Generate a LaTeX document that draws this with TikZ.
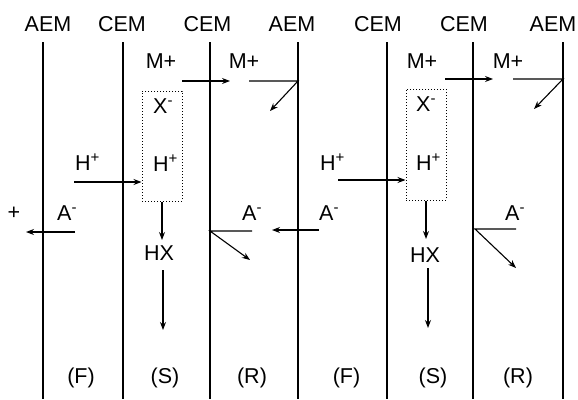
\documentclass[tikz,border=0pt]{standalone}
\usepackage{fontspec}
\setmainfont{Liberation Sans}
\usetikzlibrary{arrows.meta}
\begin{document}
\begin{tikzpicture}[x=1pt,y=-1pt,
  membrane/.style={line width=1.9pt},
  flow/.style={line width=1.1pt,-{Stealth[length=8pt,width=6pt]}},
  lbl/.style={inner sep=0pt,anchor=base,font=\fontsize{21.5}{25}\selectfont},
  lblw/.style={lbl,anchor=base west},
  pore/.style={draw,dotted,line width=1pt,inner sep=0pt}]
\useasboundingbox (0,0) rectangle (578,399);
% membranes
\foreach \n/\x in {m1/43,m2/123,m3/210,m4/298,m5/387,m6/473,m7/563}{
  \coordinate (\n t) at (\x,42);
  \coordinate (\n b) at (\x,399);
  \draw[membrane] (\n t) -- (\n b);
}
% top labels
\node[lbl] (t1) at (48,31) {AEM};
\node[lbl] (t2) at (122,31) {CEM};
\node[lbl] (t3) at (207.5,31) {CEM};
\node[lbl] (t4) at (292,31) {AEM};
\node[lbl] (t5) at (378,31) {CEM};
\node[lbl] (t6) at (464,31) {CEM};
\node[lbl] (t7) at (553,31) {AEM};
% bottom labels
\node[lbl] (b1) at (81,383) {(F)};
\node[lbl] (b2) at (165,383) {(S)};
\node[lbl] (b3) at (252,383) {(R)};
\node[lbl] (b4) at (346.5,383) {(F)};
\node[lbl] (b5) at (433,383) {(S)};
\node[lbl] (b6) at (518,383) {(R)};
% M+ labels
\node[lbl] (mp1) at (161,68) {M+};
\node[lbl] (mp2) at (244,68) {M+};
\node[lbl] (mp3) at (422,68) {M+};
\node[lbl] (mp4) at (508,68) {M+};
% pores
\node[pore,minimum width=40pt,minimum height=110pt] (box1) at (162,146) {};
\node[pore,minimum width=40pt,minimum height=111pt] (box2) at (426,144.5) {};
\node[lblw] (x1) at (153,113) {X\textsuperscript{-}};
\node[lblw] (hi1) at (153,171) {H\textsuperscript{+}};
\node[lblw] (x2) at (416,111) {X\textsuperscript{-}};
\node[lblw] (hi2) at (416,170) {H\textsuperscript{+}};
% H+ outside
\node[lblw] (h1) at (75,170) {H\textsuperscript{+}};
\node[lblw] (h2) at (320,170) {H\textsuperscript{+}};
% HX
\node[lbl] (hx1) at (159,260) {HX};
\node[lbl] (hx2) at (425,262) {HX};
% A- labels
\node[lbl] (plus) at (14,219) {+};
\node[lblw] (a1) at (57,220) {A\textsuperscript{-}};
\node[lblw] (a2) at (242,220) {A\textsuperscript{-}};
\node[lblw] (a3) at (319,220) {A\textsuperscript{-}};
\node[lblw] (a4) at (505,220) {A\textsuperscript{-}};

% M+ arrows, left unit
\coordinate (ma1) at (182,81); \coordinate (ma2) at (230,81);
\draw[flow] (ma1) -- (ma2);
\coordinate (mb1) at (249,81); \coordinate (mc1) at (298,81); \coordinate (md1) at (270,111);
\draw[flow] (mb1) -- (mc1) -- (md1);
% M+ arrows, right unit
\coordinate (ma3) at (445,79); \coordinate (ma4) at (493,79);
\draw[flow] (ma3) -- (ma4);
\coordinate (mb2) at (513,79); \coordinate (mc2) at (563,79); \coordinate (md2) at (534,109);
\draw[flow] (mb2) -- (mc2) -- (md2);
% H+ arrows
\coordinate (hs1) at (74,182);
\draw[flow] (hs1) -- (hs1 -| box1.west);
\coordinate (hs2) at (338,180);
\draw[flow] (hs2) -- (hs2 -| box2.west);
% down arrows
\coordinate (d1) at (162,240);
\draw[flow] (box1.south) -- (d1);
\coordinate (e1) at (163,270); \coordinate (f1) at (163,330);
\draw[flow] (e1) -- (f1);
\coordinate (d2) at (426,239);
\draw[flow] (box2.south) -- (d2);
\coordinate (e2) at (428,268); \coordinate (f2) at (428,328);
\draw[flow] (e2) -- (f2);
% A- arrows
\coordinate (as1) at (75,232); \coordinate (ae1) at (26,232);
\draw[flow] (as1) -- (ae1);
\coordinate (as2) at (252,231); \coordinate (ak2) at (210,231); \coordinate (ae2) at (250,260);
\draw[flow] (as2) -- (ak2) -- (ae2);
\coordinate (as3) at (319,230); \coordinate (ae3) at (272,230);
\draw[flow] (as3) -- (ae3);
\coordinate (as4) at (516,229); \coordinate (ak4) at (475,229); \coordinate (ae4) at (516,268);
\draw[flow] (as4) -- (ak4) -- (ae4);
\end{tikzpicture}
\end{document}
